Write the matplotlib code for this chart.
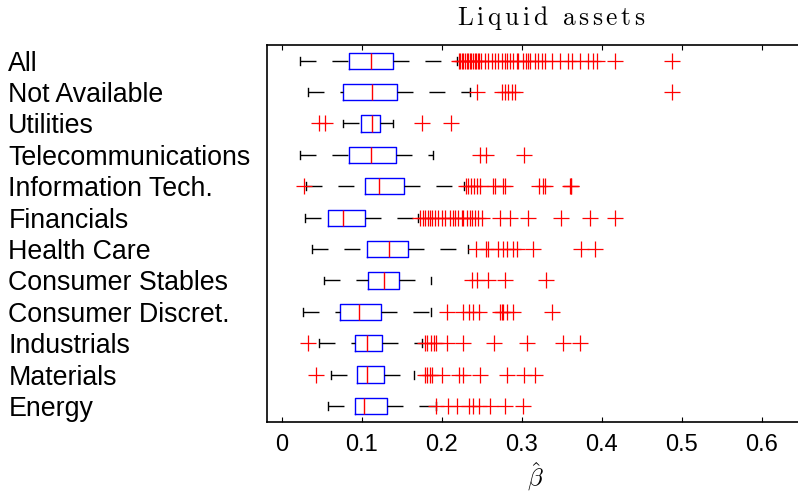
"""
Liquid assets: boxplots of beta-hat per sector (MATLAB look)
"""

import matplotlib

matplotlib.use("Agg")
from matplotlib import pyplot as plt

plt.rcParams["mathtext.fontset"] = "cm"
plt.rcParams["lines.scale_dashes"] = False
plt.rcParams["font.family"] = ["Liberation Sans", "DejaVu Sans"]

# top to bottom as in the picture
CATEGORIES = [
    "All", "Not Available", "Utilities", "Telecommunications", "Information Tech.",
    "Financials", "Health Care", "Consumer Stables", "Consumer Discret.",
    "Industrials", "Materials", "Energy",
]
WHIS_LO = [0.023, 0.0325, 0.076, 0.023, 0.030, 0.029, 0.0375, 0.053, 0.027, 0.046, 0.0616, 0.058]
Q1 = [0.0845, 0.077, 0.099, 0.084, 0.104, 0.058, 0.106, 0.1075, 0.073, 0.0916, 0.094, 0.0916]
MEDIAN = [0.111, 0.1125, 0.1125, 0.112, 0.1216, 0.0766, 0.134, 0.1275, 0.097, 0.106, 0.106, 0.103]
Q3 = [0.1395, 0.144, 0.123, 0.143, 0.153, 0.1045, 0.158, 0.146, 0.1245, 0.1254, 0.128, 0.132]
WHIS_HI = [0.219, 0.235, 0.139, 0.1895, 0.228, 0.170, 0.2325, 0.1866, 0.1866, 0.175, 0.1654, 0.193]

OUT_ALL = [
    0.221, 0.223, 0.225, 0.227, 0.229, 0.231, 0.233, 0.235, 0.237, 0.239, 0.241,
    0.243, 0.245, 0.247, 0.249, 0.254, 0.258, 0.2625, 0.2666, 0.2708, 0.275, 0.279,
    0.281, 0.2854, 0.2895, 0.2937, 0.2958, 0.302, 0.3054, 0.308, 0.310, 0.3166,
    0.3208, 0.325, 0.329, 0.3375, 0.348, 0.358, 0.3625, 0.373, 0.383, 0.3895,
    0.394, 0.416, 0.4875,
]
OUT_NA = [0.2445, 0.275, 0.279, 0.283, 0.288, 0.292, 0.4875]
OUT_UTIL = [0.046, 0.054, 0.175, 0.211]
OUT_TELE = [0.248, 0.255, 0.303]
OUT_IT = [
    0.028, 0.230, 0.233, 0.236, 0.240, 0.244, 0.248, 0.264, 0.267, 0.276, 0.279,
    0.322, 0.327, 0.329, 0.360, 0.361, 0.362,
]
OUT_FIN = [
    0.1729, 0.177, 0.179, 0.1833, 0.1854, 0.1875, 0.1916, 0.1958, 0.200, 0.2041,
    0.2104, 0.2145, 0.2166, 0.2208, 0.225, 0.227, 0.2312, 0.2354, 0.2375, 0.2416,
    0.2458, 0.250, 0.273, 0.285, 0.308, 0.349, 0.385, 0.416,
]
OUT_HC = [0.243, 0.255, 0.258, 0.270, 0.277, 0.282, 0.289, 0.2945, 0.3145, 0.374, 0.392]
OUT_CS = [0.2375, 0.2445, 0.258, 0.279, 0.330]
OUT_CD = [
    0.206, 0.227, 0.2345, 0.239, 0.247, 0.273, 0.275, 0.277, 0.282, 0.289, 0.3375,
]
OUT_IND = [0.033, 0.179, 0.182, 0.187, 0.190, 0.193, 0.206, 0.226, 0.265, 0.306, 0.351, 0.373]
OUT_MAT = [0.0425, 0.179, 0.182, 0.185, 0.188, 0.200, 0.222, 0.226, 0.248, 0.282, 0.303, 0.3166]
OUT_EN = [0.193, 0.208, 0.2195, 0.2345, 0.2395, 0.246, 0.260, 0.279, 0.302]
OUTLIERS = [
    OUT_ALL, OUT_NA, OUT_UTIL, OUT_TELE, OUT_IT, OUT_FIN,
    OUT_HC, OUT_CS, OUT_CD, OUT_IND, OUT_MAT, OUT_EN,
]
XTICKS = [0, 0.1, 0.2, 0.3, 0.4, 0.5, 0.6]


def main():
    n = len(CATEGORIES)
    positions = list(range(n, 0, -1))
    stats = [
        dict(whislo=lo, q1=a, med=m, q3=b, whishi=hi, fliers=f)
        for lo, a, m, b, hi, f in zip(WHIS_LO, Q1, MEDIAN, Q3, WHIS_HI, OUTLIERS)
    ]

    fig = plt.figure(figsize=(7.98, 4.98), dpi=100)
    ax = fig.add_axes([0.3342, 0.1532, 0.6704, 0.7564])

    parts = ax.bxp(
        stats,
        positions=positions,
        widths=0.52,
        capwidths=0.25,
        orientation="horizontal",
        boxprops=dict(color="blue", linewidth=1.0),
        medianprops=dict(color="red", linewidth=1.0),
        whiskerprops=dict(color="black", linewidth=1.0, dashes=(11.5, 11.5)),
        capprops=dict(color="black", linewidth=1.0),
        flierprops=dict(marker="+", markeredgecolor="red", markersize=11,
                        markeredgewidth=0.9, linestyle="none"),
    )
    # MATLAB draws the lower whisker starting from the cap
    for w in parts["whiskers"][::2]:
        x, y = w.get_data()
        w.set_data(list(x)[::-1], list(y)[::-1])

    ax.set_xlim(-0.019, 0.65)
    ax.set_ylim(0.5, n + 0.5)
    ax.set_xticks(XTICKS, [f"{t:g}" for t in XTICKS], fontsize=17)
    ax.set_yticks(positions, CATEGORIES, fontsize=19.3)
    ax.tick_params(axis="x", top=True, direction="in", length=3.6, width=0.8, pad=9)
    ax.tick_params(axis="y", length=0, pad=186)
    for lbl in ax.get_yticklabels():
        lbl.set_ha("left")
    for s in ax.spines.values():
        s.set_linewidth(1.2)

    fig.text(551 / 798, 1 - 18 / 498, r"$\mathrm{L\,i\,q\,u\,i\,d\ \ a\,s\,s\,e\,t\,s}$",
             ha="center", va="center", fontsize=18.3)
    fig.text(535 / 798, 1 - 477 / 498, r"$\hat{\beta}$", ha="center", va="center", fontsize=18)

    fig.savefig("out.png", dpi=100)


if __name__ == '__main__':
    main()
